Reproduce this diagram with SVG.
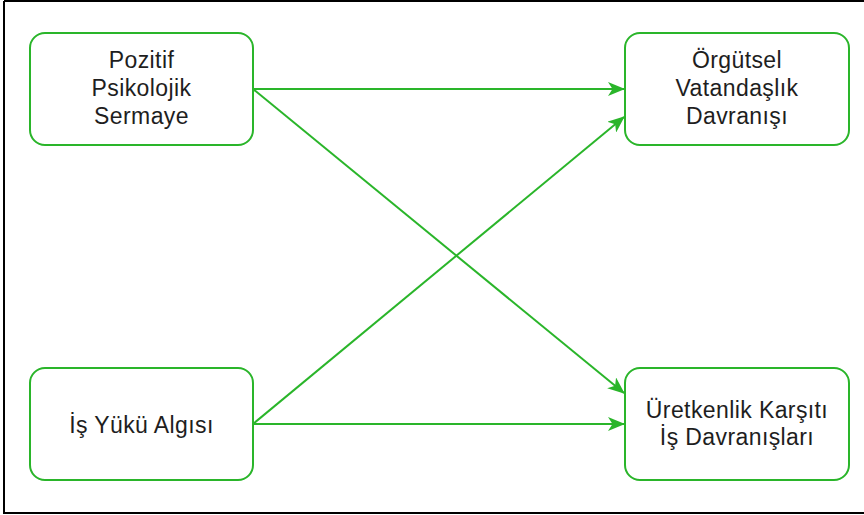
<svg xmlns="http://www.w3.org/2000/svg" width="864" height="515" viewBox="0 0 864 515">
<style>
.box{fill:#fff;stroke:#2ab52a;stroke-width:2}
.lbl{font-family:"Liberation Sans",Arial,sans-serif;font-size:23px;letter-spacing:0.4px;fill:#1e1e1e;text-anchor:middle}
.edge{stroke:#2ab52a;stroke-width:2;fill:none}
.frame{stroke:#000;stroke-width:2;fill:none}
</style>
<defs>
<marker id="arr" viewBox="0 0 17 14" refX="16" refY="7" markerWidth="17" markerHeight="14" markerUnits="userSpaceOnUse" orient="auto">
<path d="M0,0 L17,7 L0,14 L4.5,7 z" fill="#2ab52a"/>
</marker>
</defs>
<rect width="864" height="515" fill="#fff"/>
<path class="frame" d="M4,1 H864 M4,1 V513 H864"/>
<g id="connectors">
<line class="edge" x1="253" y1="89" x2="624" y2="89" marker-end="url(#arr)"/>
<line class="edge" x1="253" y1="89" x2="624" y2="393" marker-end="url(#arr)"/>
<line class="edge" x1="253" y1="424" x2="624" y2="117" marker-end="url(#arr)"/>
<line class="edge" x1="253" y1="424" x2="624" y2="424" marker-end="url(#arr)"/>
</g>
<g id="n1">
<rect class="box" x="30" y="33" width="223" height="112" rx="15"/>
<text class="lbl" x="141.5" y="68">Pozitif</text>
<text class="lbl" x="141.5" y="96">Psikolojik</text>
<text class="lbl" x="141.5" y="124">Sermaye</text>
</g>
<g id="n2">
<rect class="box" x="625" y="33" width="224" height="112" rx="15"/>
<text class="lbl" x="737" y="68">Örgütsel</text>
<text class="lbl" x="737" y="96">Vatandaşlık</text>
<text class="lbl" x="737" y="124">Davranışı</text>
</g>
<g id="n3">
<rect class="box" x="30" y="368" width="223" height="112" rx="15"/>
<text class="lbl" x="141.5" y="433">İş Yükü Algısı</text>
</g>
<g id="n4">
<rect class="box" x="625" y="368" width="224" height="112" rx="15"/>
<text class="lbl" x="737" y="418">Üretkenlik Karşıtı</text>
<text class="lbl" x="737" y="445">İş Davranışları</text>
</g>
</svg>
